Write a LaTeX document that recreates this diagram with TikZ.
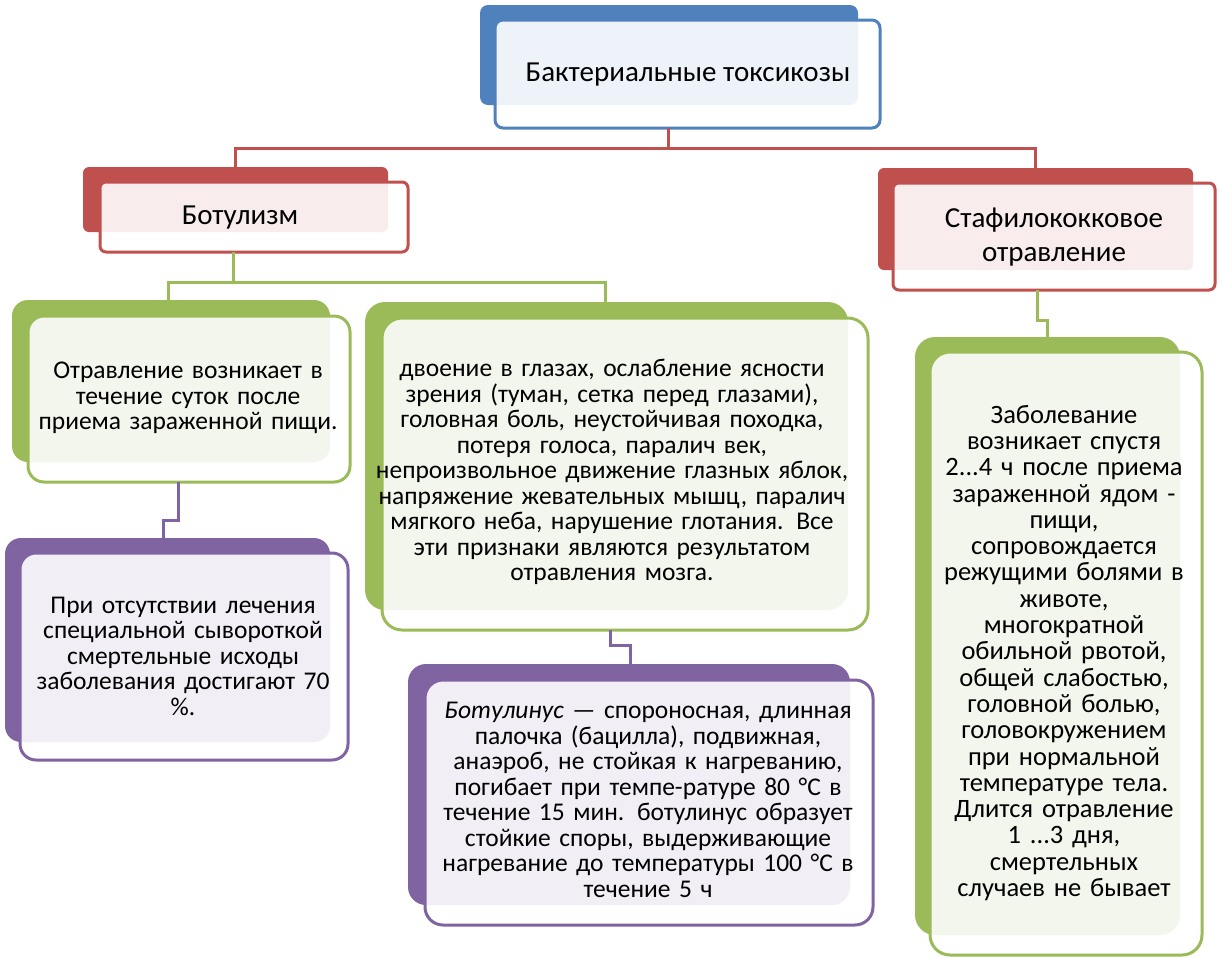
\documentclass[tikz,border=0pt]{standalone}
\usepackage{fontspec}
\setmainfont{Carlito}
\definecolor{cblue}{HTML}{4F81BD}\definecolor{tblue}{HTML}{EEF3FA}
\definecolor{cred}{HTML}{C0504D}\definecolor{tred}{HTML}{F8ECEC}
\definecolor{cgreen}{HTML}{9BBB59}\definecolor{tgreen}{HTML}{F3F6EC}
\definecolor{cpurp}{HTML}{8064A2}\definecolor{tpurp}{HTML}{F1EEF5}
\newcommand{\mybox}[8]{%
 \fill[#6,rounded corners=#8] #2 rectangle #3;
 \fill[white,rounded corners=#8] #4 rectangle #5;
 \begin{scope}
 \clip[rounded corners=#8] #2 rectangle #3;
 \fill[#7,rounded corners=#8] #4 rectangle #5;
 \end{scope}
 \draw[#6,line width=3pt,rounded corners=#8] #4 rectangle #5;
 \coordinate (#1-nw) at #4; \coordinate (#1-se) at #5;
}
\tikzset{txt/.style={align=center,font=\fontsize{25.5}{25.5}\selectfont,inner sep=0pt},
 lnk/.style={line width=3pt}}
\begin{document}
\begin{tikzpicture}[x=1pt,y=-1pt]
\useasboundingbox (0,0) rectangle (1219,959);
\mybox{top}{(480,5)}{(858,105)}{(495,20)}{(880,128)}{cblue}{tblue}{8pt}
\mybox{bot}{(83,167)}{(388,232)}{(100,182)}{(408,252)}{cred}{tred}{6pt}
\mybox{sta}{(878,168)}{(1193,270)}{(893,183)}{(1215,290)}{cred}{tred}{6pt}
\mybox{ga}{(12,300)}{(330,462)}{(28,316)}{(350,482)}{cgreen}{tgreen}{16pt}
\mybox{gb}{(365,302)}{(848,610)}{(382,318)}{(868,630)}{cgreen}{tgreen}{20pt}
\mybox{gc}{(915,337)}{(1180,935)}{(930,352)}{(1202,955)}{cgreen}{tgreen}{20pt}
\mybox{pa}{(5,538)}{(330,742)}{(20,553)}{(348,760)}{cpurp}{tpurp}{16pt}
\mybox{pb}{(408,664)}{(850,905)}{(425,680)}{(873,925)}{cpurp}{tpurp}{18pt}
\node[txt,font=\fontsize{29}{30}\selectfont] (ttop) at (688,75) {Бактериальные токсикозы};
\node[txt,font=\fontsize{29}{30}\selectfont] (tbot) at (240,218) {Ботулизм};
\node[txt,font=\fontsize{29}{34}\selectfont] (tsta) at (1054,237) {Стафилококковое\\отравление};
\node[txt,text width=330pt] (tga) at (188,398) {Отравление возникает в\\течение суток после\\приема зараженной пищи.};
\node[txt,text width=520pt] (tgb) at (612,472) {двоение в глазах, ослабление ясности\\зрения (туман, сетка перед глазами),\\головная боль, неустойчивая походка,\\потеря голоса, паралич век,\\непроизвольное движение глазных яблок,\\напряжение жевательных мышц, паралич\\мягкого неба, нарушение глотания. Все\\эти признаки являются результатом\\отравления мозга.};
\node[txt,text width=280pt,font=\fontsize{26.5}{26.3}\selectfont] (tgc) at (1064,653) {Заболевание\\возникает спустя\\2...4 ч после приема\\зараженной ядом -\\пищи,\\сопровождается\\режущими болями в\\животе,\\многократной\\обильной рвотой,\\общей слабостью,\\головной болью,\\головокружением\\при нормальной\\температуре тела.\\Длится отравление\\1 ...3 дня,\\смертельных\\случаев не бывает};
\node[txt,text width=330pt] (tpa) at (183,656) {При отсутствии лечения\\специальной сывороткой\\смертельные исходы\\заболевания достигают 70\\\%.};
\node[txt,text width=460pt] (tpb) at (648,800) {\textit{Ботулинус} — спороносная, длинная\\палочка (бацилла), подвижная,\\анаэроб, не стойкая к нагреванию,\\погибает при темпе-ратуре 80 °С в\\течение 15 мин. ботулинус образует\\стойкие споры, выдерживающие\\нагревание до температуры 100 °С в\\течение 5 ч};
\draw[cred,lnk] (top-se -| 668,0) -- (668,148) -- (235,148) -- (235,182);
\draw[cred,lnk] (668,148) -- (1035,148) -- (1035,168);
\draw[cgreen,lnk] (bot-se -| 233,0) -- (233,282) -- (168,282) -- (168,300);
\draw[cgreen,lnk] (233,282) -- (605,282) -- (605,302);
\draw[cgreen,lnk] (sta-se -| 1037,0) -- (1037,320) -- (1047,320) -- (1047,337);
\draw[cpurp,lnk] (ga-se -| 178,0) -- (178,520) -- (163,520) -- (163,538);
\draw[cpurp,lnk] (gb-se -| 610,0) -- (610,645) -- (630,645) -- (630,664);
\end{tikzpicture}
\end{document}
